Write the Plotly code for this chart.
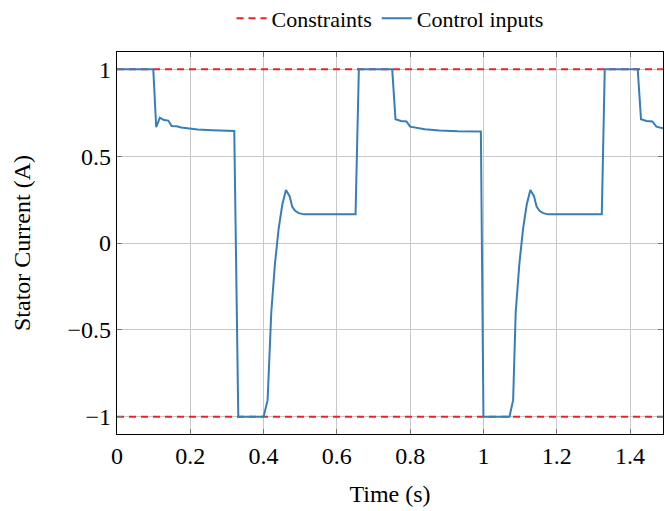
import plotly.graph_objects as go

# Data
time_s = [0.000, 0.099, 0.107, 0.117, 0.128, 0.140, 0.149, 0.163, 0.175, 0.190, 0.220, 0.260, 0.320,
          0.331, 0.400, 0.411, 0.421, 0.431, 0.441, 0.451, 0.461, 0.471, 0.478, 0.486, 0.496, 0.510,
          0.530, 0.651, 0.660, 0.751, 0.760, 0.775, 0.790, 0.800, 0.820, 0.840, 0.880, 0.930, 0.993,
          1.000, 1.071, 1.081, 1.088, 1.098, 1.108, 1.118, 1.128, 1.138, 1.145, 1.153, 1.163, 1.177,
          1.197, 1.323, 1.331, 1.421, 1.430, 1.445, 1.461, 1.472, 1.490]
current_a = [1.000, 1.000, 0.667, 0.722, 0.708, 0.705, 0.674, 0.672, 0.665, 0.660, 0.654, 0.650, 0.645,
             -1.000, -1.000, -0.905, -0.400, -0.120, 0.080, 0.220, 0.305, 0.270, 0.210, 0.185, 0.172, 0.165,
             0.166, 0.166, 1.000, 1.000, 0.713, 0.703, 0.700, 0.670, 0.662, 0.655, 0.648, 0.643, 0.642,
             -1.000, -1.000, -0.905, -0.400, -0.120, 0.080, 0.220, 0.305, 0.270, 0.210, 0.185, 0.172, 0.165,
             0.166, 0.166, 1.000, 1.000, 0.713, 0.703, 0.700, 0.670, 0.660]

constraint_t = [0.0, 1.49, None, 0.0, 1.49]
constraint_v = [1.0, 1.0, None, -1.0, -1.0]

x_ticks = [0, 0.2, 0.4, 0.6, 0.8, 1.0, 1.2, 1.4]
y_ticks = [-1, -0.5, 0, 0.5, 1]

FONT = "Liberation Serif"

fig = go.Figure()
fig.add_trace(go.Scatter(x=constraint_t, y=constraint_v, mode="lines", name="Constraints",
                         line=dict(color="rgb(235,35,40)", width=2, dash="7px,5px")))
fig.add_trace(go.Scatter(x=time_s, y=current_a, mode="lines", name="Control inputs",
                         line=dict(color="rgb(55,126,184)", width=2)))

axis_common = dict(showgrid=True, gridcolor="rgb(200,200,200)", gridwidth=1,
                   showline=True, linecolor="black", linewidth=1.2, mirror="allticks",
                   ticks="inside", ticklen=5, tickcolor="rgb(120,120,120)", zeroline=False,
                   tickfont=dict(family=FONT, size=24, color="black"))

fig.update_layout(
    width=665, height=511,
    margin=dict(l=117, r=2, t=52, b=77, autoexpand=False),
    plot_bgcolor="white", paper_bgcolor="white",
    font=dict(family=FONT, size=24, color="black"),
    showlegend=True,
    legend=dict(orientation="h", x=0.5, xanchor="center", y=1.088, yanchor="middle",
                font=dict(family=FONT, size=22, color="black"), bgcolor="rgba(0,0,0,0)",
                tracegroupgap=0, itemwidth=30),
    xaxis=dict(range=[0, 1.49], tickvals=x_ticks, title=dict(text="Time (s)", standoff=17,
               font=dict(family=FONT, size=24)), **axis_common),
    yaxis=dict(range=[-1.1, 1.1], tickvals=y_ticks, title=dict(text="Stator Current (A)", standoff=30,
               font=dict(family=FONT, size=24)), **axis_common),
)

fig.write_html("out.html")
